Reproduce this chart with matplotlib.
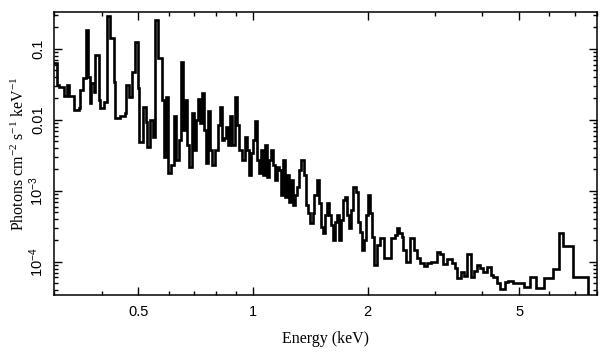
import matplotlib
matplotlib.use("Agg")
import matplotlib.pyplot as plt
from matplotlib.ticker import FixedLocator, FixedFormatter, LogLocator, NullFormatter

# bin edges (keV) and unfolded flux per bin (photons cm^-2 s^-1 keV^-1)
edges = [
    0.297, 0.306, 0.310, 0.319, 0.325, 0.329, 0.339, 0.350, 0.352, 0.358,
    0.363, 0.369, 0.372, 0.376, 0.383, 0.385, 0.395, 0.397, 0.407, 0.414,
    0.420, 0.432, 0.435, 0.448, 0.460, 0.465, 0.471, 0.482, 0.491, 0.500,
    0.503, 0.513, 0.522, 0.528, 0.535, 0.545, 0.551, 0.562, 0.575, 0.583,
    0.590, 0.597, 0.608, 0.619, 0.626, 0.638, 0.646, 0.654, 0.662, 0.670,
    0.678, 0.690, 0.699, 0.707, 0.716, 0.725, 0.734, 0.743, 0.752, 0.761,
    0.770, 0.780, 0.794, 0.809, 0.818, 0.828, 0.839, 0.849, 0.859, 0.870,
    0.880, 0.897, 0.908, 0.919, 0.935, 0.953, 0.964, 0.976, 0.988, 1.000,
    1.012, 1.025, 1.037, 1.050, 1.063, 1.076, 1.089, 1.102, 1.116, 1.129,
    1.143, 1.157, 1.171, 1.186, 1.200, 1.215, 1.230, 1.245, 1.260, 1.275,
    1.291, 1.307, 1.323, 1.339, 1.364, 1.380, 1.397, 1.414, 1.432, 1.449,
    1.467, 1.485, 1.503, 1.522, 1.540, 1.559, 1.578, 1.597, 1.617, 1.637,
    1.657, 1.677, 1.698, 1.718, 1.739, 1.761, 1.782, 1.804, 1.826, 1.860,
    1.882, 1.905, 1.929, 1.952, 1.976, 2.000, 2.025, 2.050, 2.073, 2.112,
    2.150, 2.203, 2.299, 2.356, 2.384, 2.414, 2.458, 2.473, 2.518, 2.580,
    2.644, 2.693, 2.742, 2.810, 2.862, 2.932, 3.041, 3.097, 3.154, 3.232,
    3.331, 3.393, 3.434, 3.519, 3.584, 3.650, 3.740, 3.809, 3.879, 3.950,
    4.023, 4.122, 4.224, 4.276, 4.381, 4.462, 4.572, 4.656, 4.826, 4.973,
    5.158, 5.349, 5.547, 5.822, 6.111, 6.338, 6.494, 6.902, 7.560,
]
flux = [
    0.0635, 0.0311, 0.0292, 0.0218, 0.0311, 0.0218, 0.0138, 0.0148, 0.0265,
    0.0390, 0.185, 0.0403, 0.0174, 0.0332, 0.0248, 0.0823, 0.0191, 0.0148,
    0.0179, 0.292, 0.143, 0.0343, 0.0107, 0.0114, 0.0126, 0.0311, 0.0211,
    0.0474, 0.1255, 0.0282, 0.0049, 0.0152, 0.00937, 0.00417, 0.0100, 0.00576,
    0.256, 0.0747, 0.0191, 0.00301, 0.0211, 0.00179, 0.00232, 0.0114, 0.00273,
    0.00523, 0.0656, 0.00723, 0.0191, 0.00444, 0.00218, 0.0126, 0.00378,
    0.0100, 0.0198, 0.00907, 0.0240, 0.00723, 0.00248, 0.0134, 0.00378,
    0.00232, 0.00378, 0.00850, 0.0152, 0.00523, 0.00558, 0.00797, 0.00444,
    0.0114, 0.00444, 0.0211, 0.00850, 0.00378, 0.00273, 0.00576, 0.00378,
    0.00168, 0.00343, 0.00523, 0.00968, 0.00273, 0.00179, 0.00378, 0.00168,
    0.00444, 0.00157, 0.00273, 0.00378, 0.00232, 0.00143, 0.00218, 0.00198,
    8.78e-4, 0.00273, 8.23e-4, 0.00168, 7.00e-4, 0.00143, 6.35e-4, 8.78e-4,
    0.00114, 0.00198, 0.00273, 0.00168, 6.35e-4, 4.90e-4, 3.54e-4, 4.90e-4,
    8.78e-4, 0.00143, 6.78e-4, 3.11e-4, 2.56e-4, 4.59e-4, 6.78e-4, 4.59e-4,
    3.32e-4, 2.04e-4, 3.66e-4, 4.59e-4, 2.04e-4, 3.90e-4, 7.47e-4, 8.23e-4,
    4.59e-4, 3.01e-4, 5.40e-4, 0.00114, 9.68e-4, 3.66e-4, 2.65e-4, 1.48e-4,
    2.04e-4, 4.59e-4, 8.78e-4, 4.90e-4, 2.25e-4, 9.07e-5, 1.74e-4, 2.18e-4,
    1.14e-4, 2.18e-4, 2.40e-4, 3.01e-4, 2.56e-4, 2.25e-4, 1.48e-4, 1.00e-4,
    2.18e-4, 1.48e-4, 1.14e-4, 9.68e-5, 8.78e-5, 9.68e-5, 1.00e-4, 1.38e-4,
    1.30e-4, 9.37e-5, 1.10e-4, 9.68e-5, 8.23e-5, 5.95e-5, 7.23e-5, 6.35e-5,
    1.30e-4, 6.15e-5, 7.47e-5, 9.07e-5, 8.23e-5, 7.23e-5, 8.50e-5, 6.56e-5,
    6.15e-5, 5.06e-5, 4.17e-5, 5.23e-5, 5.40e-5, 5.06e-5, 5.06e-5, 4.44e-5,
    6.15e-5, 4.30e-5, 5.95e-5, 7.97e-5, 2.56e-4, 1.68e-4, 6.15e-5,
]

xticks = [0.5, 1, 2, 5]
xtick_labels = ["0.5", "1", "2", "5"]
yticks = [1e-4, 1e-3, 1e-2, 1e-1]
ytick_labels = ["$10^{-4}$", "$10^{-3}$", "0.01", "0.1"]

plt.rcParams["font.family"] = "Liberation Sans"
plt.rcParams["mathtext.fontset"] = "custom"
plt.rcParams["mathtext.rm"] = "Liberation Sans"
plt.rcParams["mathtext.it"] = "Liberation Sans:italic"
plt.rcParams["mathtext.default"] = "regular"

fig = plt.figure(figsize=(6.08, 3.57), dpi=100)
ax = fig.add_axes([0.0888, 0.1737, 0.8932, 0.7927])

ax.stairs(flux, edges, baseline=1e-7, color="black", lw=1.9)

ax.set_xscale("log")
ax.set_yscale("log")
ax.set_xlim(0.3, 8.0)
ax.set_ylim(3.4e-5, 0.33)

ax.xaxis.set_major_locator(FixedLocator(xticks))
ax.xaxis.set_major_formatter(FixedFormatter(xtick_labels))
ax.xaxis.set_minor_locator(LogLocator(base=10, subs=range(2, 10)))
ax.xaxis.set_minor_formatter(NullFormatter())
ax.yaxis.set_major_locator(FixedLocator(yticks))
ax.yaxis.set_major_formatter(FixedFormatter(ytick_labels))
ax.yaxis.set_minor_locator(LogLocator(base=10, subs=range(2, 10)))
ax.yaxis.set_minor_formatter(NullFormatter())

ax.tick_params(which="both", direction="in", top=True, right=True, width=1.0, labelsize=10.5)
ax.tick_params(which="major", length=6)
ax.tick_params(which="minor", length=3)
ax.tick_params(axis="x", pad=7)
ax.tick_params(axis="y", pad=6)
for lbl in ax.get_yticklabels():
    lbl.set_rotation(90)
    lbl.set_va("center")
for s in ax.spines.values():
    s.set_linewidth(1.1)

ax.set_xlabel("Energy (keV)", family="Liberation Serif", fontsize=11.5, labelpad=9)
ax.set_ylabel("Photons cm$^{-2}$ s$^{-1}$ keV$^{-1}$", family="Liberation Serif",
              fontsize=11.5, labelpad=-1)

fig.savefig("out.png", dpi=100)
